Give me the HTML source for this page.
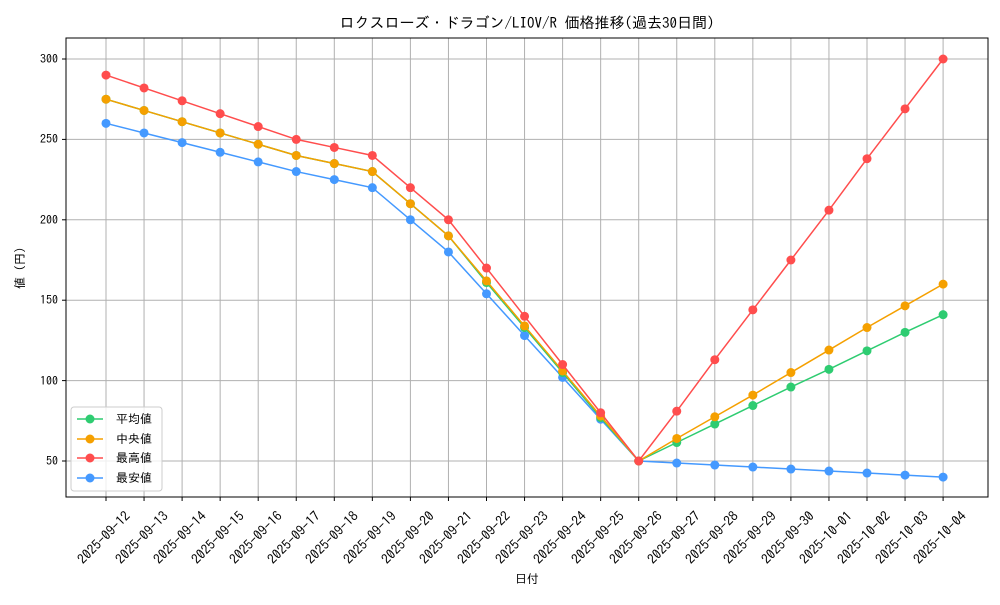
<!DOCTYPE html>
<html><head><meta charset="utf-8"><style>
html,body{margin:0;padding:0;background:#fff}
svg text{font-family:"IPAGothic","Liberation Sans","Noto Sans CJK JP",sans-serif;fill:#000}
</style></head><body>
<svg id="s" width="1000" height="600" xmlns="http://www.w3.org/2000/svg">
<rect width="1000" height="600" fill="#fff"/>
<g id="grid" stroke="#b0b0b0" stroke-width="1"></g>
<rect x="66" y="38" width="922" height="459" fill="none" stroke="#000" stroke-width="1"/>
<text x="527" y="28" font-size="15" text-anchor="middle">ロクスローズ・ドラゴン/LIOV/R 価格推移(過去30日間)</text>
<g font-size="12" text-anchor="end">
<text x="58" y="465">50</text><text x="58" y="385">100</text><text x="58" y="304">150</text>
<text x="58" y="224">200</text><text x="58" y="143">250</text><text x="58" y="63">300</text>
</g>
<text transform="translate(24,268) rotate(-90)" font-size="12" text-anchor="middle">値 (円)</text>
<text x="527" y="583" font-size="12" text-anchor="middle">日付</text>
<g id="series"></g>
<g>
<rect x="71" y="407" width="91" height="84" fill="#fff" fill-opacity="0.8" stroke="#ccc" rx="3"/>
<line x1="77" y1="419" x2="103" y2="419" stroke="#2ecc71" stroke-width="1.5"/><circle cx="90" cy="419" r="4.5" fill="#2ecc71"/>
<line x1="77" y1="439" x2="103" y2="439" stroke="#f5a000" stroke-width="1.5"/><circle cx="90" cy="439" r="4.5" fill="#f5a000"/>
<line x1="77" y1="458" x2="103" y2="458" stroke="#ff4d4d" stroke-width="1.5"/><circle cx="90" cy="458" r="4.5" fill="#ff4d4d"/>
<line x1="77" y1="478" x2="103" y2="478" stroke="#4499ff" stroke-width="1.5"/><circle cx="90" cy="478" r="4.5" fill="#4499ff"/>
<g font-size="12"><text x="116" y="423">平均値</text><text x="116" y="443">中央値</text><text x="116" y="462">最高値</text><text x="116" y="482">最安値</text></g>
</g>
<g id="labels" font-size="13.5" text-anchor="end">
<text transform="translate(131,517) rotate(-45)">2025-09-12</text>
<text transform="translate(169,517) rotate(-45)">2025-09-13</text>
<text transform="translate(207,517) rotate(-45)">2025-09-14</text>
<text transform="translate(245,517) rotate(-45)">2025-09-15</text>
<text transform="translate(283,517) rotate(-45)">2025-09-16</text>
<text transform="translate(321,517) rotate(-45)">2025-09-17</text>
<text transform="translate(359,517) rotate(-45)">2025-09-18</text>
<text transform="translate(397,517) rotate(-45)">2025-09-19</text>
<text transform="translate(435,517) rotate(-45)">2025-09-20</text>
<text transform="translate(473,517) rotate(-45)">2025-09-21</text>
<text transform="translate(511,517) rotate(-45)">2025-09-22</text>
<text transform="translate(549,517) rotate(-45)">2025-09-23</text>
<text transform="translate(587,517) rotate(-45)">2025-09-24</text>
<text transform="translate(625,517) rotate(-45)">2025-09-25</text>
<text transform="translate(663,517) rotate(-45)">2025-09-26</text>
<text transform="translate(701,517) rotate(-45)">2025-09-27</text>
<text transform="translate(739,517) rotate(-45)">2025-09-28</text>
<text transform="translate(777,517) rotate(-45)">2025-09-29</text>
<text transform="translate(815,517) rotate(-45)">2025-09-30</text>
<text transform="translate(853,517) rotate(-45)">2025-10-01</text>
<text transform="translate(891,517) rotate(-45)">2025-10-02</text>
<text transform="translate(929,517) rotate(-45)">2025-10-03</text>
<text transform="translate(967,517) rotate(-45)">2025-10-04</text>
</g>
</svg>
<script>
var NS="http://www.w3.org/2000/svg";
function X(i){return 106+38.05*i}
function Y(v){return 461-(v-50)*1.608}
var g=document.getElementById('grid');
function el(p,t,a){var e=document.createElementNS(NS,t);for(var k in a)e.setAttribute(k,a[k]);p.appendChild(e);return e}
for(var i=0;i<23;i++){el(g,'line',{x1:X(i),x2:X(i),y1:38,y2:497});el(g,'line',{x1:X(i),x2:X(i),y1:497,y2:501,stroke:'#000'});}
[50,100,150,200,250,300].forEach(function(v){el(g,'line',{x1:66,x2:988,y1:Y(v),y2:Y(v)});el(g,'line',{x1:62,x2:66,y1:Y(v),y2:Y(v),stroke:'#000'});});
var data=[
['#4499ff',[260,254,248,242,236,230,225,220,200,180,154,128,102,76,50,48.75,47.5,46.25,45,43.75,42.5,41.25,40]],
['#2ecc71',[275,268,261,254,247,240,235,230,210,190,161,133,105,77,50,61.5,73,84.5,96,107,118.5,130,141]],
['#f5a000',[275,268,261,254,247,240,235,230,210,190,162,134,106,78,50,64,77.5,91,105,119,133,146.5,160]],
['#ff4d4d',[290,282,274,266,258,250,245,240,220,200,170,140,110,80,50,81,113,144,175,206,238,269,300]]
];
var s=document.getElementById('series');
data.forEach(function(d){var pts=d[1].map(function(v,i){return X(i)+','+Y(v)}).join(' ');
el(s,'polyline',{points:pts,fill:'none',stroke:d[0],'stroke-width':1.5});
d[1].forEach(function(v,i){el(s,'circle',{cx:X(i),cy:Y(v),r:4.5,fill:d[0]})});});
</script>
</body></html>
